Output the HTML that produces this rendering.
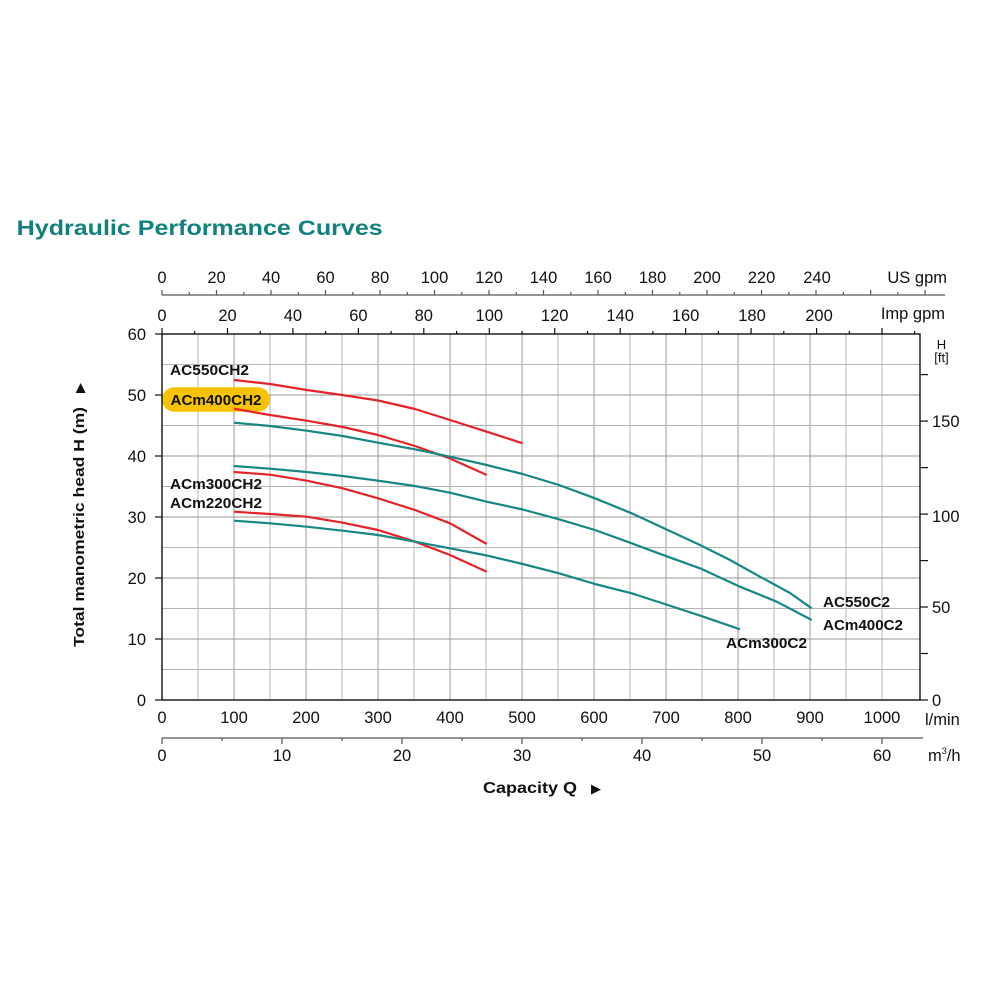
<!DOCTYPE html>
<html><head><meta charset="utf-8"><style>
html,body{margin:0;padding:0;background:#fff;}
svg{display:block;}
text{font-family:"Liberation Sans",Arial,sans-serif;fill:#111;}
.b{font-weight:bold;}
</style></head><body>
<svg width="1000" height="1000" viewBox="0 0 1000 1000" xmlns="http://www.w3.org/2000/svg">
<rect width="1000" height="1000" fill="#fff"/>
<text x="16.7" y="235" class="b" font-size="21.5" style="fill:#12807d" textLength="366" lengthAdjust="spacingAndGlyphs">Hydraulic Performance Curves</text>

<!-- grid -->
<g stroke="#b5b5b5" stroke-width="1">
<line x1="198" y1="334" x2="198" y2="700"/><line x1="234" y1="334" x2="234" y2="700" stroke="#999"/>
<line x1="270" y1="334" x2="270" y2="700"/><line x1="306" y1="334" x2="306" y2="700" stroke="#999"/>
<line x1="342" y1="334" x2="342" y2="700"/><line x1="378" y1="334" x2="378" y2="700" stroke="#999"/>
<line x1="414" y1="334" x2="414" y2="700"/><line x1="450" y1="334" x2="450" y2="700" stroke="#999"/>
<line x1="486" y1="334" x2="486" y2="700"/><line x1="522" y1="334" x2="522" y2="700" stroke="#999"/>
<line x1="558" y1="334" x2="558" y2="700"/><line x1="594" y1="334" x2="594" y2="700" stroke="#999"/>
<line x1="630" y1="334" x2="630" y2="700"/><line x1="666" y1="334" x2="666" y2="700" stroke="#999"/>
<line x1="702" y1="334" x2="702" y2="700"/><line x1="738" y1="334" x2="738" y2="700" stroke="#999"/>
<line x1="774" y1="334" x2="774" y2="700"/><line x1="810" y1="334" x2="810" y2="700" stroke="#999"/>
<line x1="846" y1="334" x2="846" y2="700"/><line x1="882" y1="334" x2="882" y2="700"/>
<line x1="162" y1="669.5" x2="920" y2="669.5"/><line x1="162" y1="639" x2="920" y2="639" stroke="#999"/>
<line x1="162" y1="608.5" x2="920" y2="608.5"/><line x1="162" y1="578" x2="920" y2="578" stroke="#999"/>
<line x1="162" y1="547.5" x2="920" y2="547.5"/><line x1="162" y1="517" x2="920" y2="517" stroke="#999"/>
<line x1="162" y1="486.5" x2="920" y2="486.5"/><line x1="162" y1="456" x2="920" y2="456" stroke="#999"/>
<line x1="162" y1="425.5" x2="920" y2="425.5"/><line x1="162" y1="395" x2="920" y2="395" stroke="#999"/>
<line x1="162" y1="364.5" x2="920" y2="364.5"/>
</g>

<!-- yellow pill -->
<rect x="162" y="387.3" width="108" height="24.4" rx="12.2" fill="#f7c300"/>

<!-- curves -->
<g fill="none" stroke-width="2.2" stroke-linejoin="round" stroke-linecap="butt">
<polyline stroke="#e5232a" points="234,380 270,384 306.7,390 342,395 378,400.5 415,409 450,420 486.7,431.7 522.7,443.3"/>
<polyline stroke="#e5232a" points="234,408.7 270,415 306.7,420.7 342.7,427 378,435 415,446 450,458.5 486.7,475"/>
<polyline stroke="#e5232a" points="234,472 270,474.7 306.7,480.7 342.7,488.3 378,498.3 415,510 450,523.3 486.7,544"/>
<polyline stroke="#e5232a" points="234,511.7 270,514 306.7,516.7 342.7,522.7 378,530 415,541.7 450,555 486.7,571.7"/>
<polyline stroke="#168782" points="234,422.7 270,426 306.7,430.7 342.7,436 378,442.7 415,449.3 450,456.7 486.7,465 522.7,474 559,485 595,498.3 631.7,513.3 667.7,530 700,545 730,560 760,576.7 790,593 811.7,608.3"/>
<polyline stroke="#168782" points="234,466 270,468.7 306.7,472 342.7,476 378,480.7 415,486 450,492.7 486.7,501.7 522.7,509.5 559,519.3 595,530 631.7,543.3 667.7,556.7 700,568.3 740,586.7 776.7,601.7 811.7,620"/>
<polyline stroke="#168782" points="234,520.7 270,523.3 306.7,526.7 342.7,530.7 378,535 415,541.7 450,548.3 486.7,555.5 522.7,564 559,573.3 595,584 631.7,593.3 667.7,605 703.3,616.7 740,629.3"/>
</g>

<!-- plot border -->
<rect x="162" y="334" width="758" height="366" fill="none" stroke="#111" stroke-width="1.4"/>

<!-- left ticks -->
<g stroke="#111" stroke-width="1.2">
<line x1="155" y1="334" x2="162" y2="334"/><line x1="155" y1="395" x2="162" y2="395"/>
<line x1="155" y1="456" x2="162" y2="456"/><line x1="155" y1="517" x2="162" y2="517"/>
<line x1="155" y1="578" x2="162" y2="578"/><line x1="155" y1="639" x2="162" y2="639"/>
<line x1="155" y1="700" x2="162" y2="700"/>
</g>
<g font-size="16.5" text-anchor="end">
<text x="146" y="340">60</text><text x="146" y="401">50</text><text x="146" y="462">40</text>
<text x="146" y="523">30</text><text x="146" y="584">20</text><text x="146" y="645">10</text>
<text x="146" y="706">0</text>
</g>

<!-- right ft axis -->
<g stroke="#111" stroke-width="1.2">
<line x1="920" y1="700" x2="928" y2="700"/><line x1="920" y1="653.5" x2="928" y2="653.5"/>
<line x1="920" y1="607" x2="928" y2="607"/><line x1="920" y1="560.6" x2="928" y2="560.6"/>
<line x1="920" y1="514.1" x2="928" y2="514.1"/><line x1="920" y1="467.6" x2="928" y2="467.6"/>
<line x1="920" y1="421.1" x2="928" y2="421.1"/><line x1="920" y1="374.6" x2="928" y2="374.6"/>
</g>
<g font-size="16.5">
<text x="932" y="706">0</text><text x="932" y="613">50</text>
<text x="932" y="522">100</text><text x="932" y="427">150</text>
</g>
<text x="941.5" y="349" font-size="13" text-anchor="middle">H</text>
<text x="941.5" y="362" font-size="13" text-anchor="middle">[ft]</text>

<!-- Y title -->
<text transform="translate(84,647) rotate(-90)" class="b" font-size="15" textLength="240" lengthAdjust="spacingAndGlyphs">Total manometric head H (m)</text>
<text transform="translate(84,393) rotate(-90)" font-size="13">▶</text>

<!-- top US gpm axis -->
<line x1="162" y1="295" x2="945" y2="295" stroke="#555" stroke-width="1.2"/>
<g stroke="#555" stroke-width="1.2">
<line x1="162" y1="290" x2="162" y2="295"/><line x1="189.3" y1="292" x2="189.3" y2="295"/>
<line x1="216.5" y1="290" x2="216.5" y2="295"/><line x1="243.8" y1="292" x2="243.8" y2="295"/>
<line x1="271" y1="290" x2="271" y2="295"/><line x1="298.3" y1="292" x2="298.3" y2="295"/>
<line x1="325.5" y1="290" x2="325.5" y2="295"/><line x1="352.8" y1="292" x2="352.8" y2="295"/>
<line x1="380" y1="290" x2="380" y2="295"/><line x1="407.3" y1="292" x2="407.3" y2="295"/>
<line x1="434.5" y1="290" x2="434.5" y2="295"/><line x1="461.8" y1="292" x2="461.8" y2="295"/>
<line x1="489" y1="290" x2="489" y2="295"/><line x1="516.3" y1="292" x2="516.3" y2="295"/>
<line x1="543.5" y1="290" x2="543.5" y2="295"/><line x1="570.8" y1="292" x2="570.8" y2="295"/>
<line x1="598" y1="290" x2="598" y2="295"/><line x1="625.3" y1="292" x2="625.3" y2="295"/>
<line x1="652.5" y1="290" x2="652.5" y2="295"/><line x1="679.8" y1="292" x2="679.8" y2="295"/>
<line x1="707" y1="290" x2="707" y2="295"/><line x1="734.3" y1="292" x2="734.3" y2="295"/>
<line x1="761.5" y1="290" x2="761.5" y2="295"/><line x1="788.8" y1="292" x2="788.8" y2="295"/>
<line x1="816" y1="290" x2="816" y2="295"/><line x1="843.3" y1="292" x2="843.3" y2="295"/>
<line x1="870.6" y1="290" x2="870.6" y2="295"/><line x1="897.8" y1="292" x2="897.8" y2="295"/>
<line x1="925.1" y1="290" x2="925.1" y2="295"/>
</g>
<g font-size="16.5" text-anchor="middle">
<text x="162" y="283">0</text><text x="216.5" y="283">20</text><text x="271" y="283">40</text>
<text x="325.5" y="283">60</text><text x="380" y="283">80</text><text x="434.5" y="283">100</text>
<text x="489" y="283">120</text><text x="543.5" y="283">140</text><text x="598" y="283">160</text>
<text x="652.5" y="283">180</text><text x="707" y="283">200</text><text x="761.5" y="283">220</text>
<text x="817" y="283">240</text>
</g>
<text x="947" y="283" font-size="16.5" text-anchor="end">US gpm</text>

<!-- Imp gpm axis on top border -->
<g stroke="#111" stroke-width="1.2">
<line x1="162" y1="328" x2="162" y2="334"/><line x1="194.7" y1="331" x2="194.7" y2="334"/>
<line x1="227.5" y1="328" x2="227.5" y2="334"/><line x1="260.2" y1="331" x2="260.2" y2="334"/>
<line x1="292.9" y1="328" x2="292.9" y2="334"/><line x1="325.6" y1="331" x2="325.6" y2="334"/>
<line x1="358.4" y1="328" x2="358.4" y2="334"/><line x1="391.1" y1="331" x2="391.1" y2="334"/>
<line x1="423.8" y1="328" x2="423.8" y2="334"/><line x1="456.6" y1="331" x2="456.6" y2="334"/>
<line x1="489.3" y1="328" x2="489.3" y2="334"/><line x1="522" y1="331" x2="522" y2="334"/>
<line x1="554.7" y1="328" x2="554.7" y2="334"/><line x1="587.5" y1="331" x2="587.5" y2="334"/>
<line x1="620.2" y1="328" x2="620.2" y2="334"/><line x1="652.9" y1="331" x2="652.9" y2="334"/>
<line x1="685.6" y1="328" x2="685.6" y2="334"/><line x1="718.4" y1="331" x2="718.4" y2="334"/>
<line x1="751.1" y1="328" x2="751.1" y2="334"/><line x1="783.8" y1="331" x2="783.8" y2="334"/>
<line x1="816.6" y1="328" x2="816.6" y2="334"/><line x1="849.3" y1="331" x2="849.3" y2="334"/>
<line x1="882" y1="328" x2="882" y2="334"/><line x1="914.7" y1="331" x2="914.7" y2="334"/>
</g>
<g font-size="16.5" text-anchor="middle">
<text x="162" y="321">0</text><text x="227.5" y="321">20</text><text x="292.9" y="321">40</text>
<text x="358.4" y="321">60</text><text x="423.8" y="321">80</text><text x="489.3" y="321">100</text>
<text x="554.7" y="321">120</text><text x="620.2" y="321">140</text><text x="685.6" y="321">160</text>
<text x="752" y="321">180</text><text x="819" y="321">200</text>
</g>
<text x="945" y="319" font-size="16.5" text-anchor="end">Imp gpm</text>

<!-- bottom l/min labels -->
<g font-size="16.5" text-anchor="middle">
<text x="162" y="723">0</text><text x="234" y="723">100</text><text x="306" y="723">200</text>
<text x="378" y="723">300</text><text x="450" y="723">400</text><text x="522" y="723">500</text>
<text x="594" y="723">600</text><text x="666" y="723">700</text><text x="738" y="723">800</text>
<text x="810" y="723">900</text><text x="882" y="723">1000</text>
</g>
<text x="925" y="725" font-size="16.5">l/min</text>

<!-- m3/h axis -->
<line x1="162" y1="738" x2="923" y2="738" stroke="#555" stroke-width="1.2"/>
<g stroke="#555" stroke-width="1.2">
<line x1="162" y1="738" x2="162" y2="744"/><line x1="222" y1="738" x2="222" y2="741"/>
<line x1="282" y1="738" x2="282" y2="744"/><line x1="342" y1="738" x2="342" y2="741"/>
<line x1="402" y1="738" x2="402" y2="744"/><line x1="462" y1="738" x2="462" y2="741"/>
<line x1="522" y1="738" x2="522" y2="744"/><line x1="582" y1="738" x2="582" y2="741"/>
<line x1="642" y1="738" x2="642" y2="744"/><line x1="702" y1="738" x2="702" y2="741"/>
<line x1="762" y1="738" x2="762" y2="744"/><line x1="822" y1="738" x2="822" y2="741"/>
<line x1="882" y1="738" x2="882" y2="744"/>
</g>
<g font-size="16.5" text-anchor="middle">
<text x="162" y="761">0</text><text x="282" y="761">10</text><text x="402" y="761">20</text>
<text x="522" y="761">30</text><text x="642" y="761">40</text><text x="762" y="761">50</text>
<text x="882" y="761">60</text>
</g>
<text x="928" y="761" font-size="16.5">m<tspan font-size="9" dy="-7">3</tspan><tspan dy="7">/h</tspan></text>

<text x="483" y="793" class="b" font-size="16" textLength="94" lengthAdjust="spacingAndGlyphs">Capacity Q</text>
<text x="591" y="793" font-size="13">▶</text>

<!-- curve labels -->
<g class="b" font-size="14.5">
<text x="170" y="375" class="b" textLength="79" lengthAdjust="spacingAndGlyphs">AC550CH2</text>
<text x="170.5" y="405" class="b" textLength="91" lengthAdjust="spacingAndGlyphs">ACm400CH2</text>
<text x="170" y="489" class="b" textLength="92" lengthAdjust="spacingAndGlyphs">ACm300CH2</text>
<text x="170" y="508" class="b" textLength="92" lengthAdjust="spacingAndGlyphs">ACm220CH2</text>
<text x="823" y="607" class="b" textLength="67" lengthAdjust="spacingAndGlyphs">AC550C2</text>
<text x="823" y="630" class="b" textLength="80" lengthAdjust="spacingAndGlyphs">ACm400C2</text>
<text x="726" y="648" class="b" textLength="81" lengthAdjust="spacingAndGlyphs">ACm300C2</text>
</g>
</svg>
</body></html>
